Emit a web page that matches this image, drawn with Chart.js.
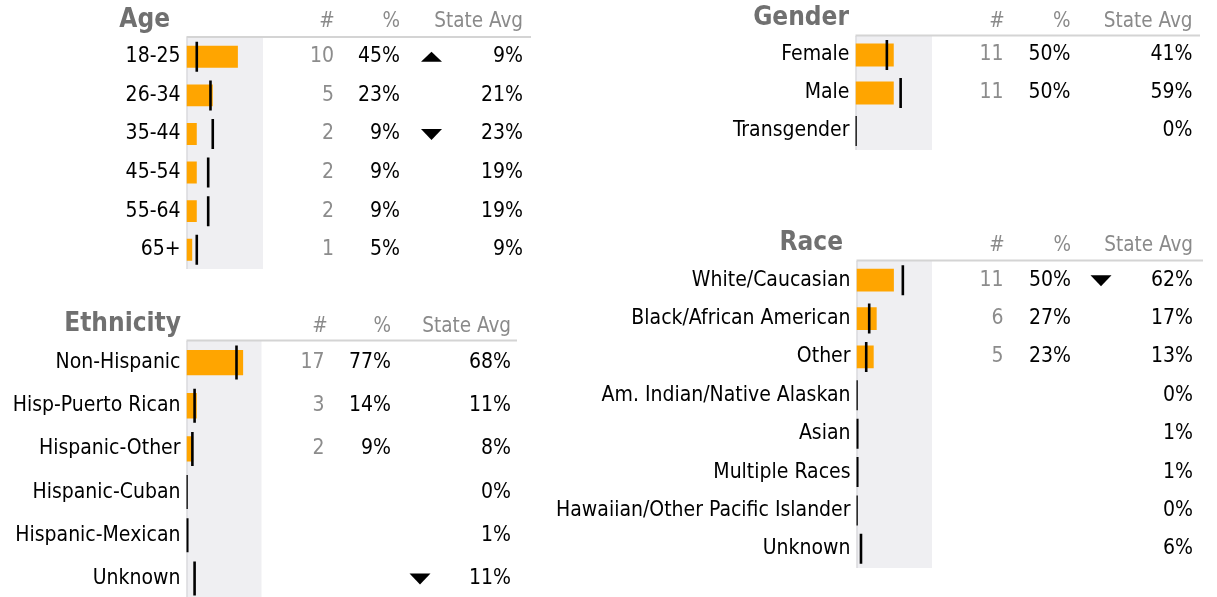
<!DOCTYPE html>
<html>
<head>
<meta charset="utf-8">
<script src="https://cdn.jsdelivr.net/npm/chart.js@4"></script>
<style>
  html, body { margin: 0; padding: 0; background: #fff; overflow: hidden; }
  body { width: 1217px; height: 597px; position: relative; }
  .panel { position: absolute; }
</style>
</head>
<body>
<div class="panel" style="left:0px;top:0px"><canvas id="ageChart" width="545" height="300"></canvas></div>
<div class="panel" style="left:0px;top:300px"><canvas id="ethChart" width="545" height="340"></canvas></div>
<div class="panel" style="left:545px;top:0px"><canvas id="genderChart" width="672" height="200"></canvas></div>
<div class="panel" style="left:545px;top:222px"><canvas id="raceChart" width="672" height="375"></canvas></div>
<script>
// ---- data ----
const ageLabels = ["18-25", "26-34", "35-44", "45-54", "55-64", "65+"];
const ageCounts = [10, 5, 2, 2, 2, 1];
const agePct = [45, 23, 9, 9, 9, 5];
const ageStateAvg = [9, 21, 23, 19, 19, 9];
const ageArrows = ["up", "", "down", "", "", ""];

const genderLabels = ["Female", "Male", "Transgender"];
const genderCounts = [11, 11, null];
const genderPct = [50, 50, null];
const genderStateAvg = [41, 59, 0];
const genderArrows = ["", "", ""];

const ethnicityLabels = ["Non-Hispanic", "Hisp-Puerto Rican", "Hispanic-Other", "Hispanic-Cuban", "Hispanic-Mexican", "Unknown"];
const ethnicityCounts = [17, 3, 2, null, null, null];
const ethnicityPct = [77, 14, 9, null, null, null];
const ethnicityStateAvg = [68, 11, 8, 0, 1, 11];
const ethnicityArrows = ["", "", "", "", "", "down"];

const raceLabels = ["White/Caucasian", "Black/African American", "Other", "Am. Indian/Native Alaskan", "Asian", "Multiple Races", "Hawaiian/Other Pacific Islander", "Unknown"];
const raceCounts = [11, 6, 5, null, null, null, null, null];
const racePct = [50, 27, 23, null, null, null, null, null];
const raceStateAvg = [62, 17, 13, 0, 1, 1, 0, 6];
const raceArrows = ["down", "", "", "", "", "", "", ""];

const FONT = "'DejaVu Sans Condensed', 'Liberation Sans', Arial, sans-serif";
const ORANGE = "#FFA500";

// table columns + title drawn next to the bars
function tablePlugin(p) {
  return {
    id: "table",
    beforeDatasetsDraw(chart) {
      const { ctx, chartArea } = chart;
      ctx.save();
      ctx.fillStyle = "#efeff2";
      ctx.fillRect(chartArea.left, chartArea.top, chartArea.right - chartArea.left, chartArea.bottom - chartArea.top);
      ctx.fillStyle = "#cfcfd4";
      ctx.fillRect(chartArea.left, chartArea.top, 1, chartArea.bottom - chartArea.top);
      ctx.restore();
    },
    afterDraw(chart) {
      const { ctx, chartArea } = chart;
      const ox = p.ox, oy = p.oy;
      const yScale = chart.scales.y;
      ctx.save();
      // header line
      ctx.fillStyle = "#d4d4d4";
      ctx.fillRect(chartArea.left, chartArea.top - 1.5, p.lineEnd - ox - chartArea.left, 2);

      // title
      ctx.font = "bold 26px " + FONT;
      ctx.fillStyle = "#707070";
      ctx.textAlign = "right";
      ctx.textBaseline = "alphabetic";
      ctx.fillText(p.title, p.titleR - ox, p.titleBase - oy);

      // column headers
      ctx.font = "20.5px " + FONT;
      ctx.fillStyle = "#8a8a8a";
      ctx.textAlign = "center";
      ctx.fillText("#", p.hashX - ox, p.headBase - oy);
      ctx.textAlign = "right";
      ctx.fillText("%", p.pctR - ox, p.headBase - oy);
      ctx.fillText("State Avg", p.avgR - ox, p.headBase - oy);

      // rows
      ctx.font = "21px " + FONT;
      ctx.textBaseline = "middle";
      p.labels.forEach((lab, i) => {
        const y = yScale.getPixelForValue(i);
        if (p.counts[i] != null) {
          ctx.fillStyle = "#8c8c8c";
          ctx.fillText(String(p.counts[i]), p.countR - ox, y);
        }
        if (p.pct[i] != null) {
          ctx.fillStyle = "#000";
          ctx.fillText(p.pct[i] + "%", p.pctR - ox, y);
        }
        ctx.fillStyle = "#000";
        ctx.fillText(p.avg[i] + "%", p.avgR - ox, y);

        const cx = p.arrowX - ox;
        if (p.arrows[i] === "up") {
          ctx.beginPath();
          ctx.moveTo(cx - 10.5, y + 5);
          ctx.lineTo(cx + 10.5, y + 5);
          ctx.lineTo(cx, y - 5);
          ctx.closePath();
          ctx.fill();
        } else if (p.arrows[i] === "down") {
          ctx.beginPath();
          ctx.moveTo(cx - 10.5, y - 5);
          ctx.lineTo(cx + 10.5, y - 5);
          ctx.lineTo(cx, y + 6);
          ctx.closePath();
          ctx.fill();
        }
      });
      ctx.restore();
    },
  };
}

function makePanel(canvasId, p) {
  const canvas = document.getElementById(canvasId);
  const W = canvas.width, H = canvas.height;
  const left = p.area.l - p.ox;
  new Chart(canvas, {
    type: "bar",
    data: {
      labels: p.labels,
      datasets: [
        {
          type: "line",
          data: p.avg,
          showLine: false,
          pointStyle: "line",
          pointRotation: 90,
          pointRadius: p.markR,
          pointBorderWidth: 2.6,
          pointBorderColor: "#000",
          pointBackgroundColor: "#000",
          clip: { left: 0, top: false, right: false, bottom: false },
          order: 0,
        },
        {
          data: p.pct,
          backgroundColor: ORANGE,
          barPercentage: p.barPct,
          categoryPercentage: 1,
          order: 1,
        },
      ],
    },
    options: {
      indexAxis: "y",
      responsive: false,
      animation: false,
      events: [],
      layout: {
        padding: {
          left: 0,
          top: p.area.t - p.oy,
          right: W - (p.area.r - p.ox),
          bottom: H - (p.area.b - p.oy),
        },
      },
      plugins: { legend: { display: false }, tooltip: { enabled: false } },
      scales: {
        x: { display: false, min: 0, max: p.max },
        y: {
          grid: { display: false, drawTicks: false },
          border: { display: false },
          ticks: { padding: 6, autoSkip: false, color: "#000", font: { family: FONT, size: 21 } },
          afterFit(scale) {
            scale.width = left;
          },
        },
      },
    },
    plugins: [tablePlugin(p)],
  });
}

makePanel("ageChart", {
  ox: 0, oy: 0,
  labels: ageLabels, counts: ageCounts, pct: agePct, avg: ageStateAvg, arrows: ageArrows,
  title: "Age", titleR: 170, titleBase: 26.5, headBase: 26.7,
  area: { l: 186.5, r: 263, t: 37.5, b: 269 }, max: 67, markR: 15, barPct: 0.57,
  hashX: 327, countR: 334, pctR: 400, arrowX: 431.5, avgR: 523, lineEnd: 531,
});

makePanel("ethChart", {
  ox: 0, oy: 300,
  labels: ethnicityLabels, counts: ethnicityCounts, pct: ethnicityPct, avg: ethnicityStateAvg, arrows: ethnicityArrows,
  title: "Ethnicity", titleR: 181, titleBase: 331, headBase: 332,
  area: { l: 186.5, r: 261.5, t: 341, b: 600 }, max: 102, markR: 17, barPct: 0.585,
  hashX: 320, countR: 324.5, pctR: 391, arrowX: 420, avgR: 511, lineEnd: 517,
});

makePanel("genderChart", {
  ox: 545, oy: 0,
  labels: genderLabels, counts: genderCounts, pct: genderPct, avg: genderStateAvg, arrows: genderArrows,
  title: "Gender", titleR: 849, titleBase: 24.5, headBase: 26.7,
  area: { l: 855.5, r: 932, t: 36, b: 150 }, max: 100, markR: 15, barPct: 0.6,
  hashX: 997, countR: 1003.5, pctR: 1070.5, arrowX: 1101, avgR: 1192.5, lineEnd: 1200,
});

makePanel("raceChart", {
  ox: 545, oy: 222,
  labels: raceLabels, counts: raceCounts, pct: racePct, avg: raceStateAvg, arrows: raceArrows,
  title: "Race", titleR: 843, titleBase: 250, headBase: 251,
  area: { l: 856.5, r: 932, t: 261, b: 568 }, max: 101, markR: 15, barPct: 0.59,
  hashX: 997, countR: 1003.5, pctR: 1071, arrowX: 1101, avgR: 1193, lineEnd: 1203,
});
</script>
</body>
</html>
